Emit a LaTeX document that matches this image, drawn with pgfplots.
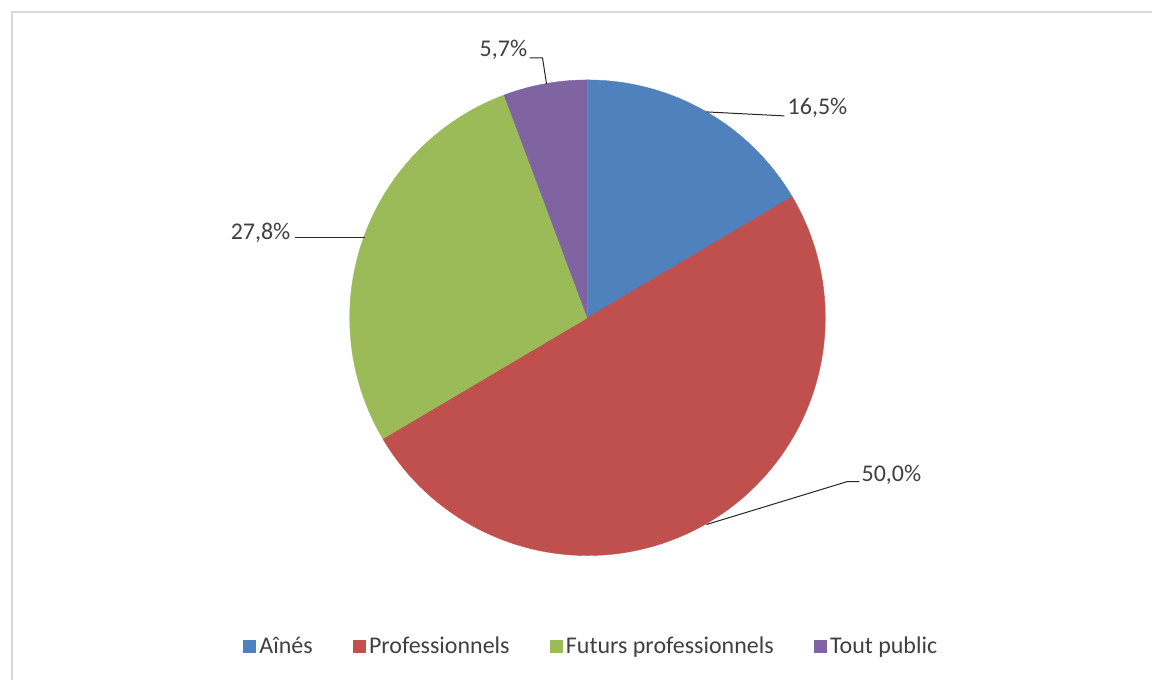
\documentclass[border=0pt]{standalone}
\usepackage{pgfplots}
\pgfplotsset{compat=1.18}
\usepackage{pgfplotstable}
\usepackage{fontspec}
\setmainfont{Carlito}
\definecolor{cA}{HTML}{4F81BD}
\definecolor{cP}{HTML}{C0504D}
\definecolor{cF}{HTML}{9BBB59}
\definecolor{cT}{HTML}{8064A2}
\definecolor{txt}{HTML}{404040}
\definecolor{frame}{HTML}{D9D9D9}

\pgfplotstableread{
name value
Aines 16.5
Pro 50.0
Futurs 27.8
Tout 5.7
}\piedata
\pgfplotstablegetelem{0}{value}\of\piedata \let\vA\pgfplotsretval
\pgfplotstablegetelem{1}{value}\of\piedata \let\vP\pgfplotsretval
\pgfplotstablegetelem{2}{value}\of\piedata \let\vF\pgfplotsretval
\pgfplotstablegetelem{3}{value}\of\piedata \let\vT\pgfplotsretval
\pgfmathsetmacro\aA{90}
\pgfmathsetmacro\aB{\aA-3.6*\vA}
\pgfmathsetmacro\aC{\aB-3.6*\vP}
\pgfmathsetmacro\aD{\aC-3.6*\vF}
\pgfmathsetmacro\aE{\aD-3.6*\vT}

\begin{document}
\begin{tikzpicture}
\begin{axis}[
  width=576.5pt, height=340.5pt, scale only axis,
  xmin=0, xmax=1153, ymin=-681, ymax=0,
  axis lines=none, clip=false,
  axis background/.style={fill=white},
  legend columns=4,
  legend cell align=left,
  legend style={at={(0.514,0.0499)}, anchor=center, draw=none, fill=none,
    font=\fontsize{12}{14}\selectfont, text=txt,
    /tikz/every even column/.append style={column sep=18pt},
    inner sep=0pt},
  legend image code/.code={\fill[#1] (-1pt,-3pt) rectangle (5pt,3pt);},
]
\addplot[fill=cA, draw=cA, line width=0.2pt, domain=\aB:\aA, samples=80, variable=\t]
  ({588+238*cos(\t)},{-318+238*sin(\t)}) -- (axis cs:588,-318) -- cycle;
\addlegendentry{Aînés}
\addplot[fill=cP, draw=cP, line width=0.2pt, domain=\aC:\aB, samples=150, variable=\t]
  ({588+238*cos(\t)},{-318+238*sin(\t)}) -- (axis cs:588,-318) -- cycle;
\addlegendentry{Professionnels}
\addplot[fill=cF, draw=cF, line width=0.2pt, domain=\aD:\aC, samples=100, variable=\t]
  ({588+238*cos(\t)},{-318+238*sin(\t)}) -- (axis cs:588,-318) -- cycle;
\addlegendentry{Futurs professionnels}
\addplot[fill=cT, draw=cT, line width=0.2pt, domain=\aE:\aD, samples=40, variable=\t]
  ({588+238*cos(\t)},{-318+238*sin(\t)}) -- (axis cs:588,-318) -- cycle;
\addlegendentry{Tout public}

% chart frame (left and top visible)
\draw[frame, line width=1pt] (axis cs:12,-681) -- (axis cs:12,-12.5) -- (axis cs:1153,-12.5);

% leader lines
\draw[black!85, line width=0.5pt] (axis cs:707,-112) -- (axis cs:785,-116);
\draw[black!85, line width=0.5pt] (axis cs:707,-525) -- (axis cs:848,-482) -- (axis cs:860,-482);
\draw[black!85, line width=0.5pt] (axis cs:295,-238) -- (axis cs:365,-238);
\draw[black!85, line width=0.5pt] (axis cs:530,-58) -- (axis cs:543,-58) -- (axis cs:547,-84);

% data labels
\node[anchor=west, inner sep=0pt, text=txt, font=\fontsize{12}{14}\selectfont] at (axis cs:788,-108) {16,5\%};
\node[anchor=west, inner sep=0pt, text=txt, font=\fontsize{12}{14}\selectfont] at (axis cs:862,-475) {50,0\%};
\node[anchor=east, inner sep=0pt, text=txt, font=\fontsize{12}{14}\selectfont] at (axis cs:291,-233) {27,8\%};
\node[anchor=east, inner sep=0pt, text=txt, font=\fontsize{12}{14}\selectfont] at (axis cs:528,-50) {5,7\%};
\end{axis}
\end{tikzpicture}
\end{document}
